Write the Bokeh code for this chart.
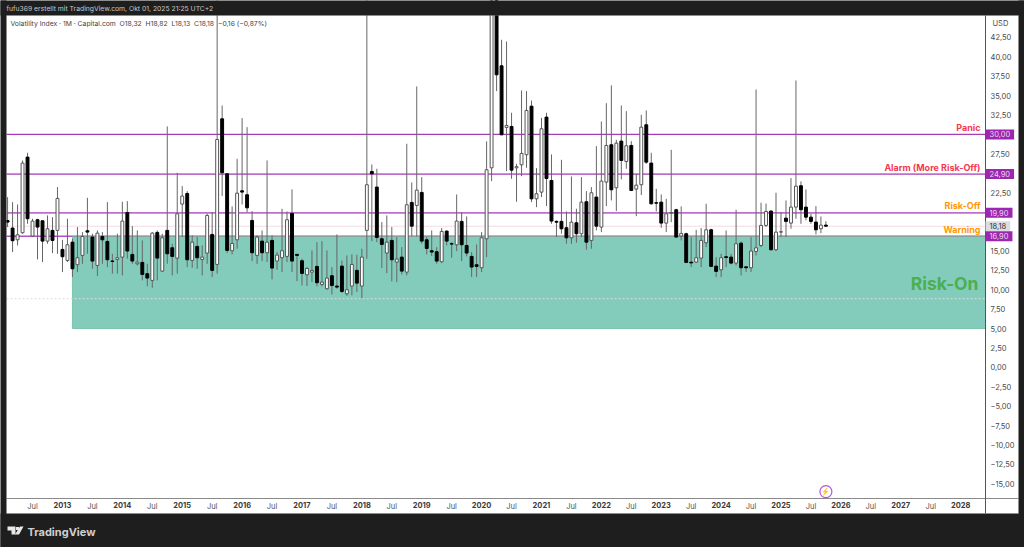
from bokeh.plotting import figure
from bokeh.models import (Range1d, FixedTicker, BoxAnnotation, Label, ColumnDataSource, LinearAxis, PolyAnnotation)
from bokeh.embed import file_html
from bokeh.resources import INLINE

months = list(range(-11, 154))  # 0 = Jan 2013
opens = [18.9,17.94,16.43,17.34,27.08,16.91,19.01,18.88,16.26,17.64,
 17.64,15.19,13.77,16.13,13.22,14.42,17.59,16.78,13.13,16.86,
 16.22,13.70,13.90,14.20,19.95,14.55,13.34,13.52,12.06,11.20,
 17.38,12.40,17.64,15.40,14.07,21.03,22.40,13.77,15.58,13.90,
 14.72,17.12,13.26,32.01,24.93,15.02,16.43,22.74,22.23,18.92,
 14.42,16.26,14.76,16.35,13.69,14.12,14.29,19.83,14.55,13.73,
 11.93,12.27,13.0,10.68,10.13,11.80,10.47,13.04,9.48,10.47,
 12.49,10.47,17.64,25.23,23.22,16.56,14.72,16.35,13.56,14.20,
 12.27,21.24,20.85,22.53,16.43,15.02,14.89,13.60,17.55,15.92,
 15.79,18.80,15.70,14.29,13.22,12.83,16.56,25.7,53.54,38.84,
 30.90,31.03,25.70,26.09,27.38,33.64,21.71,22.57,32.23,24.07,
 18.80,18.80,17.98,16.69,18.62,17.21,21.33,16.35,21.93,18.07,
 23.86,28.67,23.13,29.14,26.52,28.58,22.96,23.52,31.24,26.31,
 21.2,21.28,18.58,19.85,20.30,16.91,17.21,13.55,13.56,14.07,
 16.05,17.72,13.04,12.57,14.25,14.20,13.43,16.0,12.95,12.83,
 14.93,15.70,18.28,20.13,15.15,17.42,19.22,18.58,20.64,23.39,
 20.64,19.35,18.71,17.85,18.32]
highs = [21.93,21.28,20.98,26.65,27.64,19.14,19.14,18.92,19.57,19.35,
 23.22,16.43,19.14,16.56,18.07,17.42,21.84,17.21,17.64,17.42,
 21.28,14.63,17.21,21.33,21.41,18.19,17.64,16.35,13.34,17.42,
 17.64,17.21,31.03,15.92,25.06,23.34,22.70,17.0,16.78,15.70,
 19.78,20.0,53.29,33.73,25.02,20.73,26.86,32.10,30.94,20.13,
 17.0,17.64,26.65,17.0,14.85,20.43,20.08,22.92,14.63,13.99,
 12.92,15.06,16.13,16.26,15.06,12.92,17.12,13.77,14.42,14.55,
 14.50,15.28,50.30,26.13,25.58,18.71,19.57,18.07,16.78,15.49,
 28.80,23.82,36.18,24.50,16.78,17.64,15.49,17.94,17.64,16.13,
 22.27,20.0,19.44,14.85,15.83,17.42,29.10,85.47,60.59,42.19,
 41.97,32.79,26.22,35.66,35.58,34.37,25.66,32.14,32.79,27.42,
 18.92,26.73,20.08,24.59,20.43,24.50,22.70,23.22,28.49,31.67,
 34.03,36.31,29.31,33.73,33.0,29.14,24.93,32.53,33.09,27.64,
 23.0,22.27,21.71,28.02,20.43,20.73,17.34,16.78,17.72,17.94,
 21.07,17.85,14.20,14.63,17.64,14.63,20.30,16.22,13.0,16.78,
 35.79,21.20,21.09,20.22,22.49,20.0,21.50,24.37,36.95,23.95,
 22.92,19.78,20.77,19.44,18.82]
lows = [18.07,14.85,15.70,17.21,18.49,16.78,13.90,13.56,15.92,14.72,
 14.63,12.27,13.56,11.63,12.27,13.34,14.63,12.70,11.76,13.34,
 12.92,12.06,12.06,11.84,13.99,13.34,13.13,11.20,10.43,10.25,
 11.20,12.27,13.34,11.84,12.06,16.78,12.92,12.83,12.70,11.84,
 13.34,11.63,12.06,22.06,14.72,14.55,15.28,20.98,20.0,13.69,
 13.34,13.69,13.56,11.33,12.57,12.27,13.56,12.27,11.11,10.55,
 10.47,10.98,10.43,10.43,10.0,9.40,10.13,9.57,9.22,9.27,
 9.70,8.92,13.99,16.26,16.13,12.79,12.14,11.07,10.98,11.97,
 11.84,16.86,16.86,15.92,14.55,14.33,13.34,13.43,15.70,14.12,
 14.98,13.69,14.29,11.63,11.63,12.27,14.20,23.99,35.58,29.9,
 25.27,24.29,21.33,24.63,25.70,21.28,20.64,21.93,20.77,18.49,
 16.78,17.21,15.92,15.92,16.05,16.78,15.15,15.28,17.64,17.42,
 20.77,21.50,20.13,24.20,25.58,22.70,19.48,22.19,26.22,20.98,
 20.08,17.98,17.42,18.7,16.69,16.35,13.43,12.92,13.43,12.92,
 15.49,12.92,11.63,11.63,12.92,13.26,13.13,11.84,12.27,12.27,
 14.42,15.49,18.07,15.06,14.98,16.78,16.78,17.85,19.14,18.49,
 18.92,18.49,17.12,17.29,18.13]
closes = [18.71,16.31,17.08,26.31,19.14,18.84,18.07,16.26,17.85,16.35,
 21.76,14.25,15.79,12.70,14.12,16.86,17.42,13.69,17.29,16.43,
 13.86,13.65,14.12,18.84,14.98,13.69,13.56,11.97,11.50,17.29,
 14.07,16.69,14.63,14.29,19.78,22.06,13.86,16.13,14.12,14.20,
 19.57,12.49,29.35,25.06,15.06,15.96,22.44,22.57,20.55,14.76,
 16.78,14.76,16.13,12.79,14.46,15.02,19.01,13.69,14.42,12.10,
 12.74,12.49,10.90,10.98,11.50,10.55,10.34,9.78,10.0,13.26,
 10.85,14.20,23.52,24.93,16.73,15.83,16.13,13.86,13.95,12.40,
 20.94,18.19,22.83,16.26,15.32,14.85,13.69,17.51,16.26,15.88,
 18.84,15.79,14.72,12.92,13.0,16.69,25.45,53.54,37.68,29.95,
 31.16,25.40,25.85,27.55,33.09,21.71,22.36,30.73,24.33,18.84,
 18.70,17.85,16.69,18.71,17.21,21.28,16.13,22.49,18.19,23.99,
 28.58,22.87,28.88,26.65,28.54,22.79,23.47,30.94,26.43,21.07,
 21.15,18.58,19.78,19.95,16.78,17.25,13.52,13.45,14.12,16.35,
 17.72,13.0,12.36,14.12,14.15,13.43,15.92,12.83,12.83,14.98,
 15.40,18.28,20.08,15.15,17.42,17.47,18.80,20.64,23.34,20.30,
 19.35,18.80,17.72,18.32,18.18]

year_labels = [str(y) for y in range(2013, 2029)]
year_ticks = [12 * i for i in range(16)]
jul_ticks = [12 * i - 6 for i in range(16)]
price_ticks = [-15, -12.5, -10, -7.5, -5, -2.5, 0, 2.5, 5, 7.5, 10, 12.5, 15, 22.5, 27.5, 32.5, 35, 37.5, 40, 42.5]
price_levels = [30.0, 24.9, 19.9, 16.9]
level_names = ["Panic", "Alarm (More Risk-Off)", "Risk-Off", "Warning"]
last_price = 18.18
risk_on_low, risk_on_high = 5.0, 16.9
risk_on_start = 2

DARK = "#1e1e1e"
FONT = "Inter"
W, H = 1024, 547
# axis positions in data coordinates
X_LEFT, X_AXIS, X_PANEL = -11.2, 185.0, 191.6
Y_BOTTOM, Y_TOP, Y_PANEL = -16.93, 45.32, -18.8

def de(v):
    s = f"{abs(v):.2f}".replace(".", ",")
    return ("\u2212" + s) if v < 0 else s

p = figure(width=W, height=H, output_backend="svg", toolbar_location=None,
           x_range=Range1d(-12.42, 192.8), y_range=Range1d(-23.2, 47.25),
           x_axis_type=None, y_axis_type=None,
           min_border=0, border_fill_color=DARK, background_fill_color="white", outline_line_color=None,
           margin=(0, 0, 0, 0))
p.grid.visible = False

def sbox(l, r, t, b, color, level="annotation"):
    return BoxAnnotation(left=l, right=r, top=H - t, bottom=H - b,
                         left_units="screen", right_units="screen", top_units="screen", bottom_units="screen",
                         fill_color=color, fill_alpha=1, line_color=None, level=level)

# Risk-On zone
p.quad(left=[risk_on_start], right=[X_AXIS], bottom=[risk_on_low], top=[risk_on_high],
       fill_color="#83ccbc", line_color="#7cc6a8", line_width=1)
p.segment([X_LEFT], [8.84], [X_AXIS], [8.84], line_color="#dcdcdc", line_width=1, line_dash="2 2")

# levels
p.segment([X_LEFT], [30.0], [X_AXIS], [30.0], line_color="#a63cb8", line_width=1.2)
p.segment([X_LEFT] * 2, price_levels[1:3], [X_AXIS] * 2, price_levels[1:3], line_color="#bd6fcb", line_width=1.8)
p.segment([X_LEFT], [price_levels[3]], [risk_on_start], [price_levels[3]], line_color="#b44fc8", line_width=1.5)
p.segment([risk_on_start], [price_levels[3]], [X_AXIS], [price_levels[3]], line_color="#8f8f98", line_width=1.2)
p.segment([X_LEFT], [last_price], [X_AXIS], [last_price], line_color="#eeb4cc", line_width=1, line_dash="1 1")

# candles
up = [c >= o for o, c in zip(opens, closes)]
src = ColumnDataSource(dict(x=months, o=opens, h=highs, l=lows, c=closes,
                            top=[max(a, b) for a, b in zip(opens, closes)],
                            bot=[min(a, b) for a, b in zip(opens, closes)],
                            fill=["white" if u else "black" for u in up],
                            line=["#555555" if u else "black" for u in up]))
p.segment("x", "h", "x", "l", source=src, line_color="#666666", line_width=1)
p.vbar("x", width=0.58, top="top", bottom="bot", source=src, fill_color="fill", line_color="line", line_width=1)

# dark surround, above the marks
for b in [(-4, W + 4, -4, 15), (-4, W + 4, 513, H + 4), (-4, 6, -4, H + 4), (1018, W + 4, -4, H + 4)]:
    p.add_layout(sbox(*b, DARK))
p.add_layout(BoxAnnotation(left=6, right=1018, top=H - 15, bottom=H - 513,
                           left_units="screen", right_units="screen", top_units="screen", bottom_units="screen",
                           fill_alpha=0, line_color="#8a8a8a", line_width=1))

# axes, fixed on the chart's edges
ya = LinearAxis(fixed_location=X_AXIS, ticker=FixedTicker(ticks=price_ticks),
                major_label_overrides={t: de(t) for t in price_ticks},
                major_label_text_font=FONT, major_label_text_font_size="7.5px", major_label_text_color="#4a4a4a",
                major_tick_line_color=None, minor_tick_line_color=None, major_tick_out=0, major_tick_in=0,
                minor_tick_out=0, minor_tick_in=0, major_label_standoff=5,
                axis_line_color="#555555", bounds=(Y_PANEL, Y_TOP))
p.add_layout(ya, "right")
xa = LinearAxis(fixed_location=Y_BOTTOM, ticker=FixedTicker(ticks=year_ticks),
                major_label_overrides={t: l for t, l in zip(year_ticks, year_labels)},
                major_label_text_font=FONT, major_label_text_font_style="bold", major_label_text_font_size="7.5px",
                major_label_text_color="#3a3a3a", major_tick_line_color=None, minor_tick_line_color=None,
                major_tick_out=0, major_tick_in=0, minor_tick_out=0, minor_tick_in=0,
                major_label_standoff=3, axis_line_color="#8a8a8a", bounds=(X_LEFT, X_PANEL))
p.add_layout(xa, "below")
xb = LinearAxis(fixed_location=Y_BOTTOM, ticker=FixedTicker(ticks=jul_ticks),
                major_label_overrides={t: "Jul" for t in jul_ticks},
                major_label_text_font=FONT, major_label_text_font_size="7.5px",
                major_label_text_color="#555555", major_tick_line_color=None, minor_tick_line_color=None,
                major_tick_out=0, major_tick_in=0, minor_tick_out=0, minor_tick_in=0,
                major_label_standoff=3, axis_line_color=None)
p.add_layout(xb, "below")

# zone labels
for name, y, col in zip(level_names, [30.9, 25.8, 20.8, 17.8], ["#f7374f", "#f7374f", "#ff9800", "#ff9800"]):
    p.add_layout(Label(x=980, x_units="screen", y=y, text=name, text_color=col, text_align="right",
                       text_baseline="middle", text_font=FONT, text_font_style="bold", text_font_size="9px"))
p.add_layout(Label(x=978, y=10.8, x_units="screen", text="Risk-On", text_align="right", text_baseline="middle",
                   text_color="#4caf50", text_font=FONT, text_font_style="bold", text_font_size="17.5px"))

# price tags
for lv in [last_price] + price_levels:
    last = lv == last_price
    p.add_layout(Label(x=985, y=lv, x_units="screen", text=de(lv), text_baseline="middle",
                       text_font=FONT, text_font_size="7.5px",
                       text_color="#333333" if last else "#e9d5ee",
                       background_fill_color="#dcdce2" if last else "#9c27b0",
                       padding=(4, 2)))
p.add_layout(Label(x=992, y=H - 23, x_units="screen", y_units="screen", text="USD", text_baseline="middle",
                   text_font=FONT, text_font_size="7.5px", text_color="#4a4a4a"))

# header / legend / footer
p.add_layout(Label(x=6, y=H - 8, x_units="screen", y_units="screen", text="fufu369 erstellt mit TradingView.com, Okt 01, 2025 21:25 UTC+2",
                   text_baseline="middle", text_font=FONT, text_font_size="6.8px", text_color="#c8c8c8"))
gap = "\u00a0\u00a0"
p.add_layout(Label(x=10, y=H - 23, x_units="screen", y_units="screen",
                   text="Volatility Index \u00b7 1M \u00b7 Capital.com" + gap + "O18,32" + gap + "H18,82" + gap + "L18,13" + gap + "C18,18" + gap + "\u22120,16 (\u22120,87%)",
                   text_baseline="middle", text_font=FONT, text_font_size="6.8px", text_color="#444444"))
p.add_layout(Label(x=27, y=H - 531, x_units="screen", y_units="screen", text="TradingView", text_baseline="middle",
                   text_font=FONT, text_font_style="bold", text_font_size="11px", text_color="#cfcfcf"))

# logo
for xs, ys in [([7, 15, 15, 11, 11, 7], [526, 526, 534, 534, 530, 530]),
               ([19.5, 23, 18.5, 14.5], [526, 526, 534, 534]),
               ([15.5, 18.5, 18.5, 15.5], [526.5, 526.5, 529.5, 529.5])]:
    p.add_layout(PolyAnnotation(xs=xs, ys=[H - y for y in ys], xs_units="screen", ys_units="screen",
                                fill_color="#e8e8e8", fill_alpha=1, line_color=None))

# lightning icon
p.scatter([153], [-16], size=12, marker="circle", fill_color="white", line_color="#b455d8", line_width=1.2)
p.text([153], [-16], text=["\u26a1"], text_align="center", text_baseline="middle", text_font_size="7px", text_color="#b455d8")

open("out.html", "w").write(file_html(p, INLINE))
